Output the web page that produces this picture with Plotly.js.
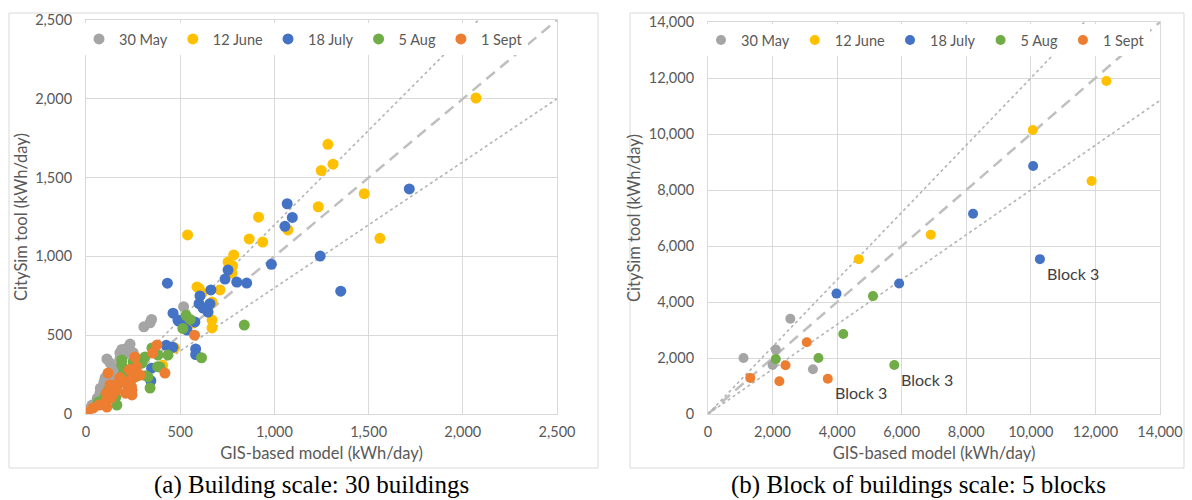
<!DOCTYPE html>
<html>
<head>
<meta charset="utf-8">
<script src="https://cdn.plot.ly/plotly-3.0.1.min.js"></script>
<style>html,body{margin:0;padding:0;background:#fff;}#chart{width:1192px;height:500px;}</style>
</head>
<body>
<div id="chart"></div>
<script>
// ---------- Data ----------
const seriesNames = ["30 May", "12 June", "18 July", "5 Aug", "1 Sept"];
const seriesColors = ["#a5a5a5", "#ffc000", "#4472c4", "#70ad47", "#ed7d31"];

// (a) Building scale: 30 buildings, GIS-based model (x) vs CitySim tool (y), kWh/day
const bMayX  = [518, 307, 348, 340, 234, 197, 180, 111, 101, 74, 32, 143, 128, 164, 76, 40, 100, 120, 190, 210, 250, 170, 140, 95, 60, 14, 180, 220, 110, 150];
const bMayY  = [681, 553, 600, 579, 444, 406, 387, 349, 228, 133, 57, 298, 323, 171, 164, 40, 180, 220, 410, 380, 390, 260, 250, 200, 100, 30, 350, 420, 240, 270];
const bJunX  = [2070, 1284, 1311, 1249, 1477, 1233, 1560, 916, 1072, 539, 866, 938, 784, 754, 775, 778, 711, 589, 601, 616, 669, 669, 669, 568, 407, 540, 470, 360, 300, 250];
const bJunY  = [2005, 1711, 1585, 1545, 1398, 1315, 1115, 1249, 1168, 1136, 1111, 1091, 1009, 964, 894, 940, 787, 806, 796, 767, 710, 596, 546, 577, 309, 580, 420, 400, 330, 270];
const bJulX  = [1716, 1068, 1095, 1056, 1243, 984, 1352, 754, 738, 800, 853, 432, 663, 605, 621, 658, 648, 462, 488, 492, 578, 536, 426, 461, 582, 582, 348, 344, 520, 600];
const bJulY  = [1428, 1334, 1247, 1191, 1002, 950, 779, 913, 856, 837, 831, 830, 787, 749, 672, 700, 647, 640, 596, 589, 584, 533, 436, 423, 413, 377, 291, 211, 560, 700];
const bAugX  = [840, 613, 531, 553, 514, 435, 393, 350, 313, 340, 329, 317, 297, 261, 190, 190, 200, 164, 64, 158, 230, 270, 120, 100, 250, 382, 210, 170, 140, 380];
const bAugY  = [564, 357, 626, 600, 543, 374, 298, 419, 362, 165, 235, 243, 323, 323, 343, 311, 264, 57, 76, 106, 280, 240, 150, 110, 330, 374, 220, 190, 130, 300];
const bSepX  = [576, 377, 354, 419, 260, 234, 250, 287, 218, 117, 127, 170, 143, 244, 244, 111, 111, 37, 5, 70, 107, 210, 160, 200, 130, 230, 180, 270, 90, 241];
const bSepY  = [500, 438, 387, 260, 362, 279, 228, 247, 184, 260, 184, 197, 121, 152, 121, 44, 89, 38, 6, 57, 132, 132, 150, 210, 100, 280, 230, 300, 60, 174];

// (b) Block of buildings scale: 5 blocks
const kMayX = [1100, 2100, 2000, 2550, 3250];
const kMayY = [2000, 2300, 1750, 3400, 1600];
const kJunX = [4670, 6900, 10060, 12340, 11880];
const kJunY = [5530, 6400, 10140, 11890, 8320];
const kJulX = [3980, 5920, 8210, 10070, 10280];
const kJulY = [4300, 4660, 7150, 8860, 5530];
const kAugX = [2100, 3420, 4190, 5110, 5770];
const kAugY = [1960, 2000, 2860, 4210, 1750];
const kSepX = [1310, 2210, 2400, 3060, 3710];
const kSepY = [1290, 1170, 1740, 2560, 1260];

// "Block 3" labels: series index and point index in the block-scale arrays
const block3Series = [2, 3, 4];
const block3Point  = [4, 4, 4];
const block3Label  = "Block 3";

// Reference lines: 1:1 (dashed) and +/-20% (dotted)
const refSlopes = [1.2, 0.8];
const axisMaxA = 2500, axisMaxB = 14000;

const buildingX = [bMayX, bJunX, bJulX, bAugX, bSepX];
const buildingY = [bMayY, bJunY, bJulY, bAugY, bSepY];
const blockX = [kMayX, kJunX, kJulX, kAugX, kSepX];
const blockY = [kMayY, kJunY, kJulY, kAugY, kSepY];

// ---------- Traces ----------
const traces = [];
function refLines(xa, ya, maxV) {
  traces.push({x: [0, maxV], y: [0, maxV], xaxis: xa, yaxis: ya, mode: 'lines', showlegend: false, hoverinfo: 'skip',
    line: {color: '#bfbfbf', width: 2.5, dash: '11px,7px'}});
  refSlopes.forEach(s => {
    const xEnd = Math.min(maxV, maxV / s);
    traces.push({x: [0, xEnd], y: [0, xEnd * s], xaxis: xa, yaxis: ya, mode: 'lines', showlegend: false, hoverinfo: 'skip',
      line: {color: '#b4b4b4', width: 1.6, dash: 'dot'}});
  });
}
refLines('x', 'y', axisMaxA);
refLines('x2', 'y2', axisMaxB);

seriesNames.forEach((n, i) => {
  traces.push({x: buildingX[i], y: buildingY[i], xaxis: 'x', yaxis: 'y', mode: 'markers', type: 'scatter', name: n,
    legend: 'legend', marker: {color: seriesColors[i], size: 11}});
});
seriesNames.forEach((n, i) => {
  traces.push({x: blockX[i], y: blockY[i], xaxis: 'x2', yaxis: 'y2', mode: 'markers', type: 'scatter', name: n,
    legend: 'legend2', marker: {color: seriesColors[i], size: 10}});
});

// ---------- Layout ----------
const W = 1192, H = 500;
const px = v => v / W, py = v => 1 - v / H;
const tickFont = {family: 'Lato', size: 14.5, color: '#595959'};
const titleFont = {family: 'Lato', size: 16.5, color: '#595959'};
const yTitlePad = '\u00A0'.repeat(7); // nudges the rotated title slightly down, as in the reference
function axis(extra) {
  return Object.assign({
    gridcolor: '#d9d9d9', gridwidth: 1, zeroline: false, showline: true, linecolor: '#d9d9d9', mirror: true,
    ticks: '', tickfont: tickFont, tickformat: ',', automargin: false, fixedrange: true
  }, extra);
}

const annotations = block3Series.map((s, k) => ({
  xref: 'x2', yref: 'y2', x: blockX[s][block3Point[k]], y: blockY[s][block3Point[k]],
  text: block3Label, showarrow: false, xshift: 33, yshift: -14,
  font: {family: 'Lato', size: 16, color: '#404040'}
}));
const capFont = {family: 'Liberation Serif', size: 25, color: '#000'};
annotations.push({xref: 'paper', yref: 'paper', x: px(311), y: 0, xanchor: 'center', yanchor: 'bottom', borderpad: 0,
  text: '(a) Building scale: 30 buildings', showarrow: false, font: capFont});
annotations.push({xref: 'paper', yref: 'paper', x: px(918), y: 0, xanchor: 'center', yanchor: 'bottom', borderpad: 0,
  text: '(b) Block of buildings scale: 5 blocks', showarrow: false, font: capFont});

const legendBase = {orientation: 'h', xanchor: 'left', yanchor: 'top', bgcolor: '#ffffff', borderwidth: 0,
  font: {family: 'Lato', size: 14.5, color: '#595959'}, itemwidth: 30, tracegroupgap: 0};

const layout = {
  width: W, height: H, margin: {l: 0, r: 0, t: 0, b: 0},
  paper_bgcolor: '#ffffff', plot_bgcolor: '#ffffff',
  font: {family: 'Lato', color: '#595959'},
  hovermode: false,
  xaxis: axis({domain: [px(86), px(557)], range: [0, axisMaxA], dtick: 500, anchor: 'y', ticklabelstandoff: 5,
    title: {text: 'GIS-based model (kWh/day)', font: titleFont, standoff: 8}}),
  yaxis: axis({domain: [py(414), py(20)], range: [0, axisMaxA], dtick: 500, anchor: 'x', ticklabelstandoff: 10,
    title: {text: 'CitySim tool (kWh/day)' + yTitlePad, font: titleFont, standoff: 3}}),
  xaxis2: axis({domain: [px(708), px(1160)], range: [0, axisMaxB], dtick: 2000, anchor: 'y2', ticklabelstandoff: 5,
    title: {text: 'GIS-based model (kWh/day)', font: titleFont, standoff: 8}}),
  yaxis2: axis({domain: [py(414), py(22)], range: [0, axisMaxB], dtick: 2000, anchor: 'x2', ticklabelstandoff: 10,
    title: {text: 'CitySim tool (kWh/day)' + yTitlePad, font: titleFont, standoff: 3}}),
  legend: Object.assign({}, legendBase, {x: px(79), y: py(23)}),
  legend2: Object.assign({}, legendBase, {x: px(701), y: py(24)}),
  shapes: [
    {type: 'rect', xref: 'paper', yref: 'paper', x0: px(9), x1: px(598), y0: py(468), y1: py(13), line: {color: '#d9d9d9', width: 1}},
    {type: 'rect', xref: 'paper', yref: 'paper', x0: px(630), x1: px(1184), y0: py(468), y1: py(13), line: {color: '#d9d9d9', width: 1}}
  ],
  annotations: annotations
};

Plotly.newPlot('chart', traces, layout, {displayModeBar: false, staticPlot: true});
</script>
</body>
</html>
